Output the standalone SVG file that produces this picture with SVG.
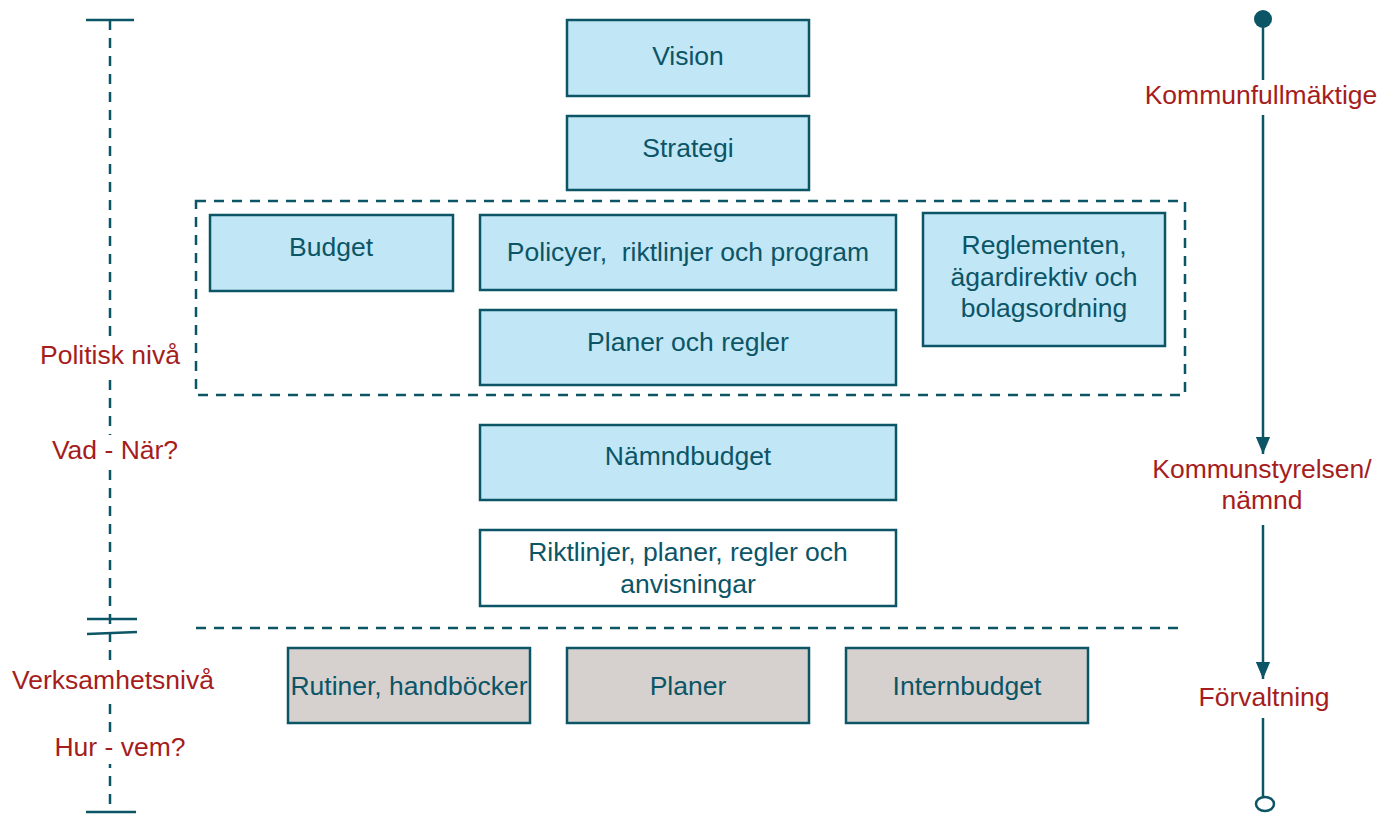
<svg xmlns="http://www.w3.org/2000/svg" width="1397" height="814" viewBox="0 0 1397 814">
<style>
.box{stroke:#0b5566;stroke-width:2.5}
.blue{fill:#c1e6f6}
.gray{fill:#d6d1ce}
.white{fill:#ffffff}
.t{font-family:"Liberation Sans",Arial,sans-serif;font-size:26.5px;fill:#0b5566;text-anchor:middle}
.r{font-family:"Liberation Sans",Arial,sans-serif;font-size:26.5px;fill:#a51d1d;text-anchor:middle}
.ln{stroke:#0b5566;stroke-width:2.5;fill:none}
.dash{stroke:#0b5566;stroke-width:2.5;fill:none;stroke-dasharray:10 8}
.bg{fill:#ffffff}
</style>
<defs>
<marker id="ah" viewBox="0 0 12 10" refX="12" refY="5" markerWidth="7" markerHeight="6" orient="auto" markerUnits="strokeWidth">
<path d="M0,0 L12,5 L0,10 z" fill="#0b5566"/>
</marker>
</defs>
<rect width="1397" height="814" fill="#ffffff"/>
<g id="connectors">
<line class="ln" x1="86" y1="20" x2="134" y2="20"/>
<line class="dash" x1="110" y1="20" x2="110" y2="812"/>
<line class="ln" x1="87" y1="619" x2="137" y2="619"/>
<line class="ln" x1="87" y1="634" x2="137" y2="632"/>
<line class="ln" x1="86" y1="812" x2="136" y2="812"/>
<rect class="dash" x="196" y="201" width="989" height="194"/>
<line class="dash" x1="196" y1="628" x2="1185" y2="628"/>
<circle cx="1263" cy="19" r="9" fill="#0b5566"/>
<line class="ln" x1="1263" y1="19" x2="1263" y2="80"/>
<line class="ln" x1="1263" y1="115" x2="1263" y2="454" marker-end="url(#ah)"/>
<line class="ln" x1="1263" y1="525" x2="1263" y2="679" marker-end="url(#ah)"/>
<line class="ln" x1="1263" y1="718" x2="1263" y2="796"/>
<ellipse class="ln" cx="1265" cy="804" rx="9" ry="7"/>
</g>
<g id="vision"><rect class="box blue" x="567" y="20" width="242" height="76"/><text class="t" x="688" y="65">Vision</text></g>
<g id="strategi"><rect class="box blue" x="567" y="116" width="242" height="74"/><text class="t" x="688" y="157">Strategi</text></g>
<g id="budget"><rect class="box blue" x="210" y="215" width="243" height="76"/><text class="t" x="331" y="256">Budget</text></g>
<g id="policyer"><rect class="box blue" x="480" y="215" width="416" height="75"/><text class="t" x="688" y="261" xml:space="preserve">Policyer,  riktlinjer och program</text></g>
<g id="reglementen"><rect class="box blue" x="923" y="213" width="242" height="133"/><text class="t" x="1044" y="254">Reglementen,</text><text class="t" x="1044" y="286">ägardirektiv och</text><text class="t" x="1044" y="317">bolagsordning</text></g>
<g id="planer-regler"><rect class="box blue" x="480" y="310" width="416" height="75"/><text class="t" x="688" y="351">Planer och regler</text></g>
<g id="namndbudget"><rect class="box blue" x="480" y="425" width="416" height="75"/><text class="t" x="688" y="465">Nämndbudget</text></g>
<g id="riktlinjer"><rect class="box white" x="480" y="530" width="416" height="76"/><text class="t" x="688" y="561">Riktlinjer, planer, regler och</text><text class="t" x="688" y="593">anvisningar</text></g>
<g id="rutiner"><rect class="box gray" x="288" y="648" width="242" height="75"/><text class="t" x="409" y="695">Rutiner, handböcker</text></g>
<g id="planer"><rect class="box gray" x="567" y="648" width="242" height="75"/><text class="t" x="688" y="695">Planer</text></g>
<g id="internbudget"><rect class="box gray" x="846" y="648" width="242" height="75"/><text class="t" x="967" y="695">Internbudget</text></g>
<g id="labels">
<rect class="bg" x="38" y="340" width="144" height="32"/>
<text class="r" x="110" y="364">Politisk nivå</text>
<rect class="bg" x="50" y="435" width="130" height="32"/>
<text class="r" x="115" y="459">Vad - När?</text>
<rect class="bg" x="10" y="665" width="206" height="32"/>
<text class="r" x="113" y="689">Verksamhetsnivå</text>
<rect class="bg" x="53" y="732" width="135" height="32"/>
<text class="r" x="120" y="756">Hur - vem?</text>
<text class="r" x="1261" y="104">Kommunfullmäktige</text>
<text class="r" x="1262" y="478">Kommunstyrelsen/</text>
<text class="r" x="1262" y="509">nämnd</text>
<text class="r" x="1264" y="706">Förvaltning</text>
</g>
</svg>
